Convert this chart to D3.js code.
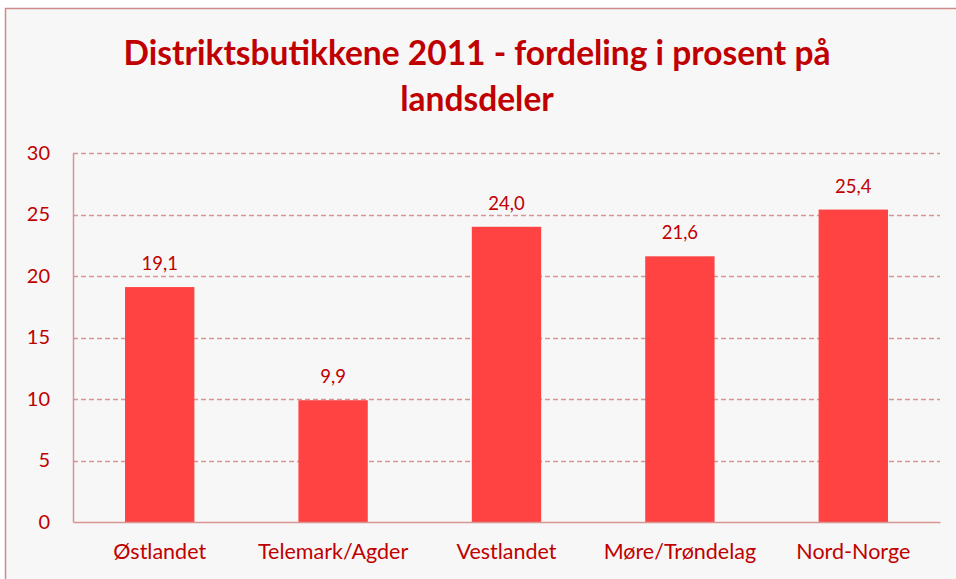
<!DOCTYPE html>
<html lang="no">
  <head>
    <meta charset="utf-8">
    <title>Distriktsbutikkene 2011</title>
    <script src="https://d3js.org/d3.v7.min.js"></script>
    <style>
      body { margin: 0; background: #fff; }
      text { font-family: Lato, "Open Sans", sans-serif; }
    </style>
  </head>
  <body>
    <svg width="956" height="579"></svg>
    <script type="text/javascript">
      // data
      var regions = ["Østlandet", "Telemark/Agder", "Vestlandet", "Møre/Trøndelag", "Nord-Norge"];
      var percent = [19.1, 9.9, 24.0, 21.6, 25.4];
      var yTicks = [0, 5, 10, 15, 20, 25, 30];
      var titleLines = ["Distriktsbutikkene 2011 - fordeling i prosent på", "landsdeler"];

      var red = "#c00000",
          gridColor = "#d99594";

      var svg = d3.select("svg"),
          width = +svg.attr("width"),
          height = +svg.attr("height");

      // chart frame
      svg.append("rect")
          .attr("x", 5.5).attr("y", 8.5)
          .attr("width", width + 10).attr("height", height + 10)
          .attr("fill", "#f7f7f7")
          .attr("stroke", "#d08a8a")
          .attr("stroke-width", 1.5);

      var title = svg.append("text")
          .attr("text-anchor", "middle")
          .attr("fill", red)
          .attr("font-weight", "bold")
          .attr("font-size", 33.5);
      title.selectAll("tspan")
          .data(titleLines)
          .enter().append("tspan")
          .attr("x", 477)
          .attr("y", function(d, i) { return 65 + i * 46; })
          .text(function(d) { return d; });

      var margin = {left: 73, top: 153, right: 940, bottom: 522};

      var x = d3.scaleBand()
          .domain(regions)
          .range([margin.left, margin.right])
          .paddingInner(0.6)
          .paddingOuter(0.3);

      var y = d3.scaleLinear()
          .domain([0, 30])
          .range([margin.bottom, margin.top]);

      // dashed gridlines
      svg.append("g")
        .selectAll("line")
        .data(yTicks.filter(function(d) { return d > 0; }))
        .enter().append("line")
          .attr("x1", margin.left).attr("x2", margin.right)
          .attr("y1", function(d) { return Math.round(y(d)) + 0.5; })
          .attr("y2", function(d) { return Math.round(y(d)) + 0.5; })
          .attr("stroke", gridColor)
          .attr("stroke-width", 1.3)
          .attr("stroke-dasharray", "5,3");

      // bars
      svg.append("g")
        .selectAll("rect")
        .data(percent)
        .enter().append("rect")
          .attr("x", function(d, i) { return x(regions[i]); })
          .attr("y", function(d) { return y(d); })
          .attr("width", x.bandwidth())
          .attr("height", function(d) { return y(0) - y(d); })
          .attr("fill", "#ff4343");

      // value labels
      svg.append("g")
        .selectAll("text")
        .data(percent)
        .enter().append("text")
          .attr("x", function(d, i) { return x(regions[i]) + x.bandwidth() / 2; })
          .attr("y", function(d) { return y(d) - 17; })
          .attr("text-anchor", "middle")
          .attr("fill", red)
          .attr("font-size", 18.5)
          .text(function(d) { return d3.format(".1f")(d).replace(".", ","); });

      // y axis
      var yAxis = svg.append("g")
          .attr("transform", "translate(" + margin.left + ",0)")
          .call(d3.axisLeft(y).tickValues(yTicks).tickSize(0).tickPadding(23));
      yAxis.select(".domain").attr("stroke", gridColor).attr("stroke-width", 1.5);
      yAxis.selectAll("text").attr("fill", red).attr("font-size", 20)
          .attr("font-family", "Lato, sans-serif");

      // x axis
      var xAxis = svg.append("g")
          .attr("transform", "translate(0," + margin.bottom + ")")
          .call(d3.axisBottom(x).tickSize(0).tickPadding(22));
      xAxis.select(".domain").attr("stroke", gridColor).attr("stroke-width", 1.5);
      xAxis.selectAll("text").attr("fill", red).attr("font-size", 21.5)
          .attr("font-family", "Lato, sans-serif");
    </script>
  </body>
</html>
